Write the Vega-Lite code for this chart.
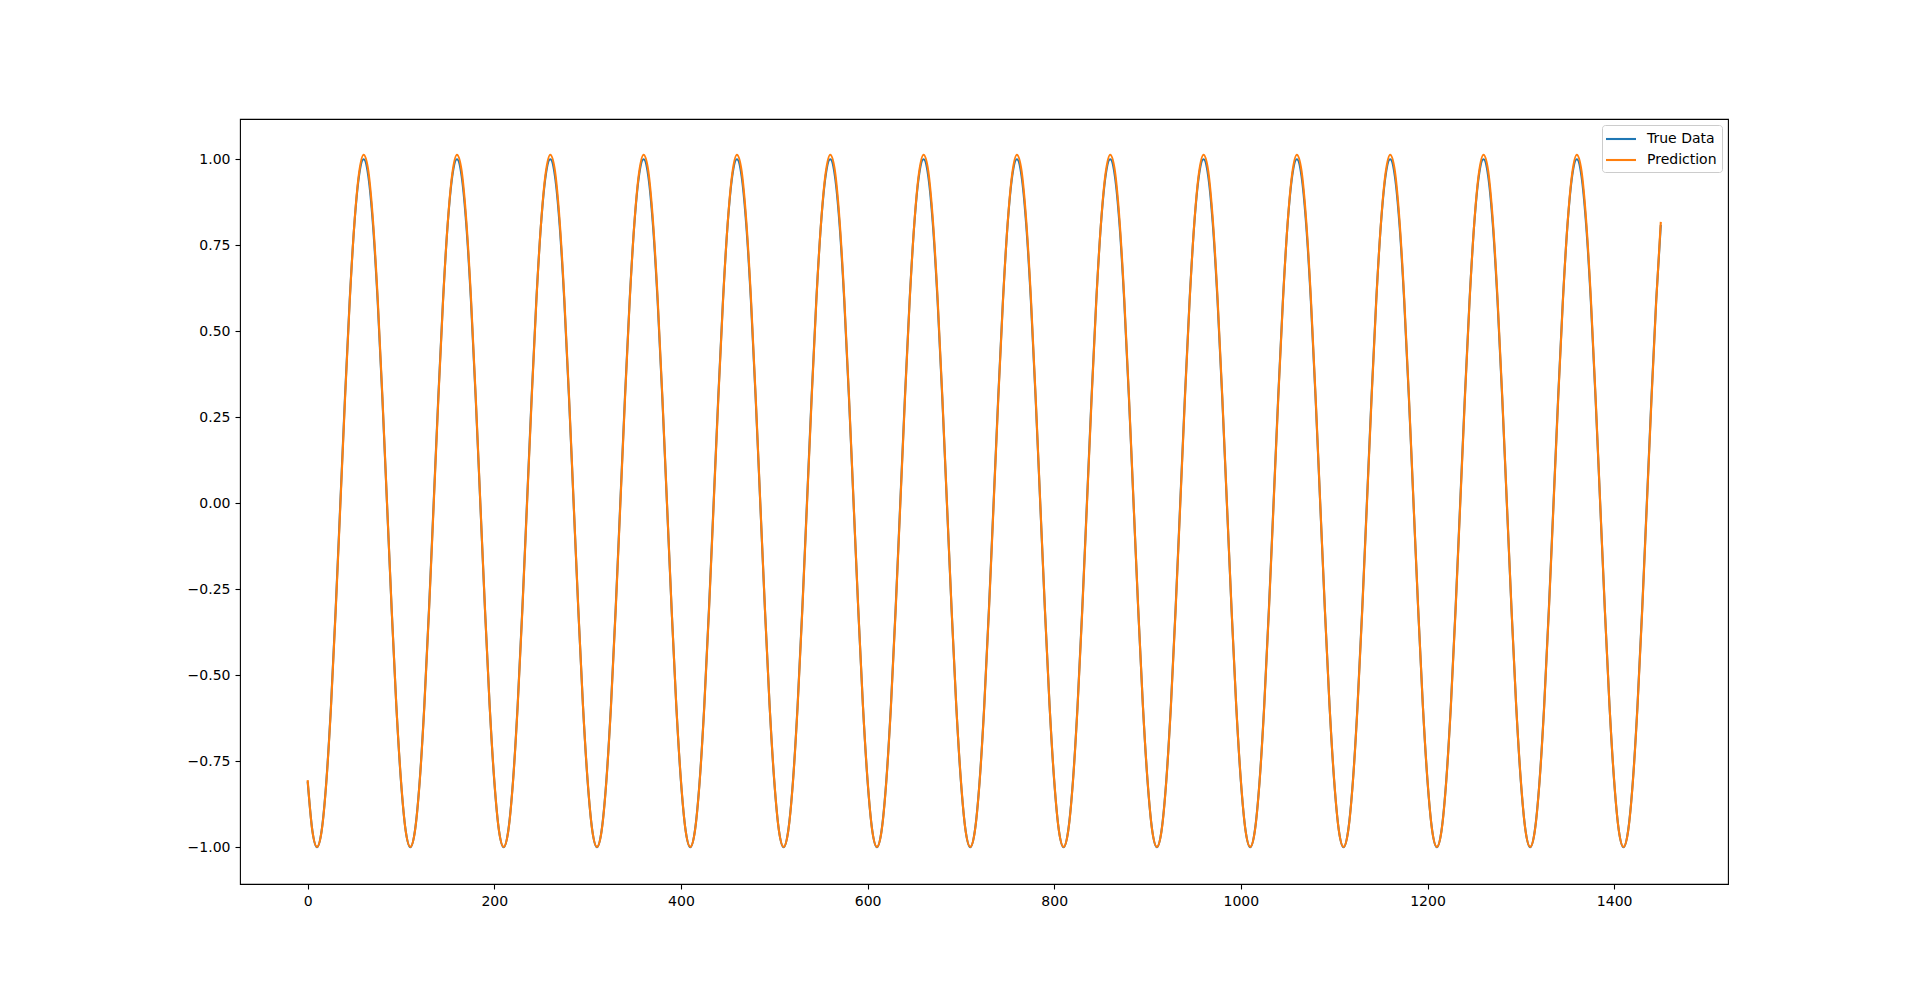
{
  "$schema": "https://vega.github.io/schema/vega-lite/v6.json",
  "width": 1488,
  "height": 765,
  "autosize": {"type": "none"},
  "padding": {"left": 240, "top": 119, "right": 192, "bottom": 109},
  "background": "white",
  "data": {
    "values": [
      {"x":0,"True Data":-0.809,"Prediction":-0.805},{"x":5,"True Data":-0.951,"Prediction":-0.952},{"x":10,"True Data":-1,"Prediction":-0.999},{"x":15,"True Data":-0.951,"Prediction":-0.953},{"x":20,"True Data":-0.809,"Prediction":-0.812},{"x":25,"True Data":-0.588,"Prediction":-0.593},{"x":30,"True Data":-0.309,"Prediction":-0.316},{"x":35,"True Data":0,"Prediction":-0.008},{"x":40,"True Data":0.309,"Prediction":0.3},{"x":45,"True Data":0.588,"Prediction":0.583},{"x":50,"True Data":0.809,"Prediction":0.81},{"x":55,"True Data":0.951,"Prediction":0.958},{"x":60,"True Data":1,"Prediction":1.013},{"x":65,"True Data":0.951,"Prediction":0.966},{"x":70,"True Data":0.809,"Prediction":0.822},{"x":75,"True Data":0.588,"Prediction":0.598},{"x":80,"True Data":0.309,"Prediction":0.316},{"x":85,"True Data":0,"Prediction":0.004},{"x":90,"True Data":-0.309,"Prediction":-0.305},{"x":95,"True Data":-0.588,"Prediction":-0.587},
      {"x":100,"True Data":-0.809,"Prediction":-0.805},{"x":105,"True Data":-0.951,"Prediction":-0.952},{"x":110,"True Data":-1,"Prediction":-0.999},{"x":115,"True Data":-0.951,"Prediction":-0.953},{"x":120,"True Data":-0.809,"Prediction":-0.812},{"x":125,"True Data":-0.588,"Prediction":-0.593},{"x":130,"True Data":-0.309,"Prediction":-0.316},{"x":135,"True Data":0,"Prediction":-0.008},{"x":140,"True Data":0.309,"Prediction":0.3},{"x":145,"True Data":0.588,"Prediction":0.583},{"x":150,"True Data":0.809,"Prediction":0.81},{"x":155,"True Data":0.951,"Prediction":0.958},{"x":160,"True Data":1,"Prediction":1.013},{"x":165,"True Data":0.951,"Prediction":0.966},{"x":170,"True Data":0.809,"Prediction":0.822},{"x":175,"True Data":0.588,"Prediction":0.598},{"x":180,"True Data":0.309,"Prediction":0.316},{"x":185,"True Data":0,"Prediction":0.004},{"x":190,"True Data":-0.309,"Prediction":-0.305},{"x":195,"True Data":-0.588,"Prediction":-0.587},
      {"x":200,"True Data":-0.809,"Prediction":-0.805},{"x":205,"True Data":-0.951,"Prediction":-0.952},{"x":210,"True Data":-1,"Prediction":-0.999},{"x":215,"True Data":-0.951,"Prediction":-0.953},{"x":220,"True Data":-0.809,"Prediction":-0.812},{"x":225,"True Data":-0.588,"Prediction":-0.593},{"x":230,"True Data":-0.309,"Prediction":-0.316},{"x":235,"True Data":0,"Prediction":-0.008},{"x":240,"True Data":0.309,"Prediction":0.3},{"x":245,"True Data":0.588,"Prediction":0.583},{"x":250,"True Data":0.809,"Prediction":0.81},{"x":255,"True Data":0.951,"Prediction":0.958},{"x":260,"True Data":1,"Prediction":1.013},{"x":265,"True Data":0.951,"Prediction":0.966},{"x":270,"True Data":0.809,"Prediction":0.822},{"x":275,"True Data":0.588,"Prediction":0.598},{"x":280,"True Data":0.309,"Prediction":0.316},{"x":285,"True Data":0,"Prediction":0.004},{"x":290,"True Data":-0.309,"Prediction":-0.305},{"x":295,"True Data":-0.588,"Prediction":-0.587},
      {"x":300,"True Data":-0.809,"Prediction":-0.805},{"x":305,"True Data":-0.951,"Prediction":-0.952},{"x":310,"True Data":-1,"Prediction":-0.999},{"x":315,"True Data":-0.951,"Prediction":-0.953},{"x":320,"True Data":-0.809,"Prediction":-0.812},{"x":325,"True Data":-0.588,"Prediction":-0.593},{"x":330,"True Data":-0.309,"Prediction":-0.316},{"x":335,"True Data":0,"Prediction":-0.008},{"x":340,"True Data":0.309,"Prediction":0.3},{"x":345,"True Data":0.588,"Prediction":0.583},{"x":350,"True Data":0.809,"Prediction":0.81},{"x":355,"True Data":0.951,"Prediction":0.958},{"x":360,"True Data":1,"Prediction":1.013},{"x":365,"True Data":0.951,"Prediction":0.966},{"x":370,"True Data":0.809,"Prediction":0.822},{"x":375,"True Data":0.588,"Prediction":0.598},{"x":380,"True Data":0.309,"Prediction":0.316},{"x":385,"True Data":0,"Prediction":0.004},{"x":390,"True Data":-0.309,"Prediction":-0.305},{"x":395,"True Data":-0.588,"Prediction":-0.587},
      {"x":400,"True Data":-0.809,"Prediction":-0.805},{"x":405,"True Data":-0.951,"Prediction":-0.952},{"x":410,"True Data":-1,"Prediction":-0.999},{"x":415,"True Data":-0.951,"Prediction":-0.953},{"x":420,"True Data":-0.809,"Prediction":-0.812},{"x":425,"True Data":-0.588,"Prediction":-0.593},{"x":430,"True Data":-0.309,"Prediction":-0.316},{"x":435,"True Data":0,"Prediction":-0.008},{"x":440,"True Data":0.309,"Prediction":0.3},{"x":445,"True Data":0.588,"Prediction":0.583},{"x":450,"True Data":0.809,"Prediction":0.81},{"x":455,"True Data":0.951,"Prediction":0.958},{"x":460,"True Data":1,"Prediction":1.013},{"x":465,"True Data":0.951,"Prediction":0.966},{"x":470,"True Data":0.809,"Prediction":0.822},{"x":475,"True Data":0.588,"Prediction":0.598},{"x":480,"True Data":0.309,"Prediction":0.316},{"x":485,"True Data":0,"Prediction":0.004},{"x":490,"True Data":-0.309,"Prediction":-0.305},{"x":495,"True Data":-0.588,"Prediction":-0.587},
      {"x":500,"True Data":-0.809,"Prediction":-0.805},{"x":505,"True Data":-0.951,"Prediction":-0.952},{"x":510,"True Data":-1,"Prediction":-0.999},{"x":515,"True Data":-0.951,"Prediction":-0.953},{"x":520,"True Data":-0.809,"Prediction":-0.812},{"x":525,"True Data":-0.588,"Prediction":-0.593},{"x":530,"True Data":-0.309,"Prediction":-0.316},{"x":535,"True Data":0,"Prediction":-0.008},{"x":540,"True Data":0.309,"Prediction":0.3},{"x":545,"True Data":0.588,"Prediction":0.583},{"x":550,"True Data":0.809,"Prediction":0.81},{"x":555,"True Data":0.951,"Prediction":0.958},{"x":560,"True Data":1,"Prediction":1.013},{"x":565,"True Data":0.951,"Prediction":0.966},{"x":570,"True Data":0.809,"Prediction":0.822},{"x":575,"True Data":0.588,"Prediction":0.598},{"x":580,"True Data":0.309,"Prediction":0.316},{"x":585,"True Data":0,"Prediction":0.004},{"x":590,"True Data":-0.309,"Prediction":-0.305},{"x":595,"True Data":-0.588,"Prediction":-0.587},
      {"x":600,"True Data":-0.809,"Prediction":-0.805},{"x":605,"True Data":-0.951,"Prediction":-0.952},{"x":610,"True Data":-1,"Prediction":-0.999},{"x":615,"True Data":-0.951,"Prediction":-0.953},{"x":620,"True Data":-0.809,"Prediction":-0.812},{"x":625,"True Data":-0.588,"Prediction":-0.593},{"x":630,"True Data":-0.309,"Prediction":-0.316},{"x":635,"True Data":0,"Prediction":-0.008},{"x":640,"True Data":0.309,"Prediction":0.3},{"x":645,"True Data":0.588,"Prediction":0.583},{"x":650,"True Data":0.809,"Prediction":0.81},{"x":655,"True Data":0.951,"Prediction":0.958},{"x":660,"True Data":1,"Prediction":1.013},{"x":665,"True Data":0.951,"Prediction":0.966},{"x":670,"True Data":0.809,"Prediction":0.822},{"x":675,"True Data":0.588,"Prediction":0.598},{"x":680,"True Data":0.309,"Prediction":0.316},{"x":685,"True Data":0,"Prediction":0.004},{"x":690,"True Data":-0.309,"Prediction":-0.305},{"x":695,"True Data":-0.588,"Prediction":-0.587},
      {"x":700,"True Data":-0.809,"Prediction":-0.805},{"x":705,"True Data":-0.951,"Prediction":-0.952},{"x":710,"True Data":-1,"Prediction":-0.999},{"x":715,"True Data":-0.951,"Prediction":-0.953},{"x":720,"True Data":-0.809,"Prediction":-0.812},{"x":725,"True Data":-0.588,"Prediction":-0.593},{"x":730,"True Data":-0.309,"Prediction":-0.316},{"x":735,"True Data":0,"Prediction":-0.008},{"x":740,"True Data":0.309,"Prediction":0.3},{"x":745,"True Data":0.588,"Prediction":0.583},{"x":750,"True Data":0.809,"Prediction":0.81},{"x":755,"True Data":0.951,"Prediction":0.958},{"x":760,"True Data":1,"Prediction":1.013},{"x":765,"True Data":0.951,"Prediction":0.966},{"x":770,"True Data":0.809,"Prediction":0.822},{"x":775,"True Data":0.588,"Prediction":0.598},{"x":780,"True Data":0.309,"Prediction":0.316},{"x":785,"True Data":0,"Prediction":0.004},{"x":790,"True Data":-0.309,"Prediction":-0.305},{"x":795,"True Data":-0.588,"Prediction":-0.587},
      {"x":800,"True Data":-0.809,"Prediction":-0.805},{"x":805,"True Data":-0.951,"Prediction":-0.952},{"x":810,"True Data":-1,"Prediction":-0.999},{"x":815,"True Data":-0.951,"Prediction":-0.953},{"x":820,"True Data":-0.809,"Prediction":-0.812},{"x":825,"True Data":-0.588,"Prediction":-0.593},{"x":830,"True Data":-0.309,"Prediction":-0.316},{"x":835,"True Data":0,"Prediction":-0.008},{"x":840,"True Data":0.309,"Prediction":0.3},{"x":845,"True Data":0.588,"Prediction":0.583},{"x":850,"True Data":0.809,"Prediction":0.81},{"x":855,"True Data":0.951,"Prediction":0.958},{"x":860,"True Data":1,"Prediction":1.013},{"x":865,"True Data":0.951,"Prediction":0.966},{"x":870,"True Data":0.809,"Prediction":0.822},{"x":875,"True Data":0.588,"Prediction":0.598},{"x":880,"True Data":0.309,"Prediction":0.316},{"x":885,"True Data":0,"Prediction":0.004},{"x":890,"True Data":-0.309,"Prediction":-0.305},{"x":895,"True Data":-0.588,"Prediction":-0.587},
      {"x":900,"True Data":-0.809,"Prediction":-0.805},{"x":905,"True Data":-0.951,"Prediction":-0.952},{"x":910,"True Data":-1,"Prediction":-0.999},{"x":915,"True Data":-0.951,"Prediction":-0.953},{"x":920,"True Data":-0.809,"Prediction":-0.812},{"x":925,"True Data":-0.588,"Prediction":-0.593},{"x":930,"True Data":-0.309,"Prediction":-0.316},{"x":935,"True Data":0,"Prediction":-0.008},{"x":940,"True Data":0.309,"Prediction":0.3},{"x":945,"True Data":0.588,"Prediction":0.583},{"x":950,"True Data":0.809,"Prediction":0.81},{"x":955,"True Data":0.951,"Prediction":0.958},{"x":960,"True Data":1,"Prediction":1.013},{"x":965,"True Data":0.951,"Prediction":0.966},{"x":970,"True Data":0.809,"Prediction":0.822},{"x":975,"True Data":0.588,"Prediction":0.598},{"x":980,"True Data":0.309,"Prediction":0.316},{"x":985,"True Data":0,"Prediction":0.004},{"x":990,"True Data":-0.309,"Prediction":-0.305},{"x":995,"True Data":-0.588,"Prediction":-0.587},
      {"x":1000,"True Data":-0.809,"Prediction":-0.805},{"x":1005,"True Data":-0.951,"Prediction":-0.952},{"x":1010,"True Data":-1,"Prediction":-0.999},{"x":1015,"True Data":-0.951,"Prediction":-0.953},{"x":1020,"True Data":-0.809,"Prediction":-0.812},{"x":1025,"True Data":-0.588,"Prediction":-0.593},{"x":1030,"True Data":-0.309,"Prediction":-0.316},{"x":1035,"True Data":0,"Prediction":-0.008},{"x":1040,"True Data":0.309,"Prediction":0.3},{"x":1045,"True Data":0.588,"Prediction":0.583},{"x":1050,"True Data":0.809,"Prediction":0.81},{"x":1055,"True Data":0.951,"Prediction":0.958},{"x":1060,"True Data":1,"Prediction":1.013},{"x":1065,"True Data":0.951,"Prediction":0.966},{"x":1070,"True Data":0.809,"Prediction":0.822},{"x":1075,"True Data":0.588,"Prediction":0.598},{"x":1080,"True Data":0.309,"Prediction":0.316},{"x":1085,"True Data":0,"Prediction":0.004},{"x":1090,"True Data":-0.309,"Prediction":-0.305},{"x":1095,"True Data":-0.588,"Prediction":-0.587},
      {"x":1100,"True Data":-0.809,"Prediction":-0.805},{"x":1105,"True Data":-0.951,"Prediction":-0.952},{"x":1110,"True Data":-1,"Prediction":-0.999},{"x":1115,"True Data":-0.951,"Prediction":-0.953},{"x":1120,"True Data":-0.809,"Prediction":-0.812},{"x":1125,"True Data":-0.588,"Prediction":-0.593},{"x":1130,"True Data":-0.309,"Prediction":-0.316},{"x":1135,"True Data":0,"Prediction":-0.008},{"x":1140,"True Data":0.309,"Prediction":0.3},{"x":1145,"True Data":0.588,"Prediction":0.583},{"x":1150,"True Data":0.809,"Prediction":0.81},{"x":1155,"True Data":0.951,"Prediction":0.958},{"x":1160,"True Data":1,"Prediction":1.013},{"x":1165,"True Data":0.951,"Prediction":0.966},{"x":1170,"True Data":0.809,"Prediction":0.822},{"x":1175,"True Data":0.588,"Prediction":0.598},{"x":1180,"True Data":0.309,"Prediction":0.316},{"x":1185,"True Data":0,"Prediction":0.004},{"x":1190,"True Data":-0.309,"Prediction":-0.305},{"x":1195,"True Data":-0.588,"Prediction":-0.587},
      {"x":1200,"True Data":-0.809,"Prediction":-0.805},{"x":1205,"True Data":-0.951,"Prediction":-0.952},{"x":1210,"True Data":-1,"Prediction":-0.999},{"x":1215,"True Data":-0.951,"Prediction":-0.953},{"x":1220,"True Data":-0.809,"Prediction":-0.812},{"x":1225,"True Data":-0.588,"Prediction":-0.593},{"x":1230,"True Data":-0.309,"Prediction":-0.316},{"x":1235,"True Data":0,"Prediction":-0.008},{"x":1240,"True Data":0.309,"Prediction":0.3},{"x":1245,"True Data":0.588,"Prediction":0.583},{"x":1250,"True Data":0.809,"Prediction":0.81},{"x":1255,"True Data":0.951,"Prediction":0.958},{"x":1260,"True Data":1,"Prediction":1.013},{"x":1265,"True Data":0.951,"Prediction":0.966},{"x":1270,"True Data":0.809,"Prediction":0.822},{"x":1275,"True Data":0.588,"Prediction":0.598},{"x":1280,"True Data":0.309,"Prediction":0.316},{"x":1285,"True Data":0,"Prediction":0.004},{"x":1290,"True Data":-0.309,"Prediction":-0.305},{"x":1295,"True Data":-0.588,"Prediction":-0.587},
      {"x":1300,"True Data":-0.809,"Prediction":-0.805},{"x":1305,"True Data":-0.951,"Prediction":-0.952},{"x":1310,"True Data":-1,"Prediction":-0.999},{"x":1315,"True Data":-0.951,"Prediction":-0.953},{"x":1320,"True Data":-0.809,"Prediction":-0.812},{"x":1325,"True Data":-0.588,"Prediction":-0.593},{"x":1330,"True Data":-0.309,"Prediction":-0.316},{"x":1335,"True Data":0,"Prediction":-0.008},{"x":1340,"True Data":0.309,"Prediction":0.3},{"x":1345,"True Data":0.588,"Prediction":0.583},{"x":1350,"True Data":0.809,"Prediction":0.81},{"x":1355,"True Data":0.951,"Prediction":0.958},{"x":1360,"True Data":1,"Prediction":1.013},{"x":1365,"True Data":0.951,"Prediction":0.966},{"x":1370,"True Data":0.809,"Prediction":0.822},{"x":1375,"True Data":0.588,"Prediction":0.598},{"x":1380,"True Data":0.309,"Prediction":0.316},{"x":1385,"True Data":0,"Prediction":0.004},{"x":1390,"True Data":-0.309,"Prediction":-0.305},{"x":1395,"True Data":-0.588,"Prediction":-0.587},
      {"x":1400,"True Data":-0.809,"Prediction":-0.805},{"x":1405,"True Data":-0.951,"Prediction":-0.952},{"x":1410,"True Data":-1,"Prediction":-0.999},{"x":1415,"True Data":-0.951,"Prediction":-0.953},{"x":1420,"True Data":-0.809,"Prediction":-0.812},{"x":1425,"True Data":-0.588,"Prediction":-0.593},{"x":1430,"True Data":-0.309,"Prediction":-0.316},{"x":1435,"True Data":0,"Prediction":-0.008},{"x":1440,"True Data":0.309,"Prediction":0.3},{"x":1445,"True Data":0.588,"Prediction":0.583},{"x":1450,"True Data":0.809,"Prediction":0.818}
    ]
  },
  "transform": [
    {"fold": ["True Data", "Prediction"], "as": ["series", "value"]}
  ],
  "mark": {"type": "line", "strokeWidth": 2.1, "interpolate": "monotone"},
  "encoding": {
    "x": {
      "field": "x",
      "type": "quantitative",
      "scale": {"domain": [-72.5, 1522], "nice": false, "zero": false},
      "axis": {"values": [0, 200, 400, 600, 800, 1000, 1200, 1400], "format": "d", "title": null}
    },
    "y": {
      "field": "value",
      "type": "quantitative",
      "scale": {"domain": [-1.107, 1.117], "nice": false, "zero": false},
      "axis": {"values": [-1, -0.75, -0.5, -0.25, 0, 0.25, 0.5, 0.75, 1], "format": ".2f", "title": null}
    },
    "color": {
      "field": "series",
      "type": "nominal",
      "scale": {"domain": ["True Data", "Prediction"], "range": ["#1f77b4", "#ff7f0e"]},
      "legend": {
        "title": null,
        "orient": "top-right",
        "offset": 6,
        "symbolType": "M-2,0L2,0",
        "symbolSize": 225,
        "symbolOffset": 5,
        "symbolStrokeWidth": 2.1,
        "labelFont": "DejaVu Sans",
        "labelFontSize": 14,
        "labelColor": "black",
        "labelOffset": 17,
        "rowPadding": 5,
        "padding": 5,
        "fillColor": "rgba(255,255,255,0.8)",
        "strokeColor": "#cccccc",
        "cornerRadius": 3
      }
    },
    "order": {"field": "x", "type": "quantitative"}
  },
  "config": {
    "view": {"stroke": "black", "strokeWidth": 1.1},
    "axis": {
      "domain": false,
      "grid": false,
      "ticks": true,
      "tickColor": "black",
      "tickSize": 5,
      "tickWidth": 1.1,
      "labelFont": "DejaVu Sans",
      "labelFontSize": 14,
      "labelColor": "black",
      "labelPadding": 5
    }
  }
}
